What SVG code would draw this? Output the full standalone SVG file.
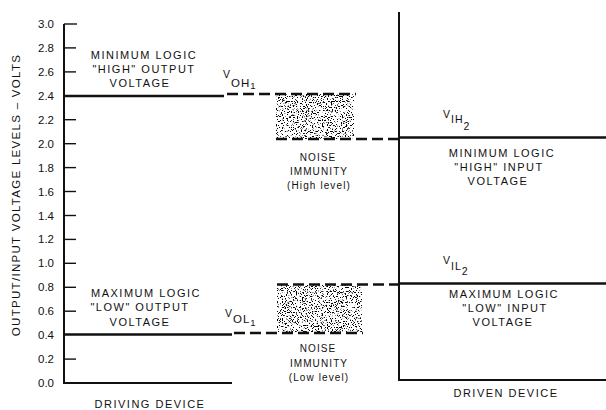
<svg xmlns="http://www.w3.org/2000/svg" width="606" height="410" viewBox="0 0 606 410">
<style>
  text { font-family: "Liberation Sans", Arial, sans-serif; fill: #111; }
  .lbl { font-size: 11px; letter-spacing: 1.5px; text-anchor: middle; }
  .nz { font-size: 10px; letter-spacing: 1.1px; text-anchor: middle; }
  .tk { font-size: 11.5px; text-anchor: end; }
  .v { font-size: 10.5px; letter-spacing: 1px; }
  .ax { stroke: #111; stroke-width: 2; fill: none; }
  .lvl { stroke: #111; stroke-width: 2.6; fill: none; }
  .dash { stroke: #111; stroke-width: 2.6; fill: none; stroke-dasharray: 11 5; }
  .tick { stroke: #111; stroke-width: 1.4; }
</style>
<defs>
  <filter id="stipple" x="0" y="0" width="1" height="1">
    <feTurbulence type="fractalNoise" baseFrequency="0.8" numOctaves="2" seed="7" result="n"/>
    <feColorMatrix in="n" type="matrix" values="0 0 0 0 0  0 0 0 0 0  0 0 0 0 0  -13 0 0 0 5.7" result="m"/>
    <feComposite in="m" in2="SourceGraphic" operator="in"/>
  </filter>
</defs>
<rect width="606" height="410" fill="#fff"/>

<g id="y-axis">
  <line class="ax" x1="64" y1="24" x2="64" y2="383"/>
  <line class="ax" x1="63" y1="383" x2="232" y2="383"/>
  <g class="ticks">
    <line class="tick" x1="64" y1="24" x2="77" y2="24"/>
    <line class="tick" x1="64" y1="47.9" x2="76" y2="47.9"/>
    <line class="tick" x1="64" y1="71.9" x2="76" y2="71.9"/>
    <line class="tick" x1="64" y1="119.7" x2="76" y2="119.7"/>
    <line class="tick" x1="64" y1="143.7" x2="76" y2="143.7"/>
    <line class="tick" x1="64" y1="167.6" x2="76" y2="167.6"/>
    <line class="tick" x1="64" y1="191.5" x2="76" y2="191.5"/>
    <line class="tick" x1="64" y1="215.5" x2="76" y2="215.5"/>
    <line class="tick" x1="64" y1="239.4" x2="76" y2="239.4"/>
    <line class="tick" x1="64" y1="263.3" x2="76" y2="263.3"/>
    <line class="tick" x1="64" y1="287.3" x2="76" y2="287.3"/>
    <line class="tick" x1="64" y1="311.2" x2="76" y2="311.2"/>
    <line class="tick" x1="64" y1="359.1" x2="76" y2="359.1"/>
  </g>
  <text class="tk" x="54" y="28">3.0</text>
  <text class="tk" x="54" y="51.9">2.8</text>
  <text class="tk" x="54" y="75.9">2.6</text>
  <text class="tk" x="54" y="99.8">2.4</text>
  <text class="tk" x="54" y="123.7">2.2</text>
  <text class="tk" x="54" y="147.7">2.0</text>
  <text class="tk" x="54" y="171.6">1.8</text>
  <text class="tk" x="54" y="195.5">1.6</text>
  <text class="tk" x="54" y="219.5">1.4</text>
  <text class="tk" x="54" y="243.4">1.2</text>
  <text class="tk" x="54" y="267.3">1.0</text>
  <text class="tk" x="54" y="291.3">0.8</text>
  <text class="tk" x="54" y="315.2">0.6</text>
  <text class="tk" x="54" y="339.1">0.4</text>
  <text class="tk" x="54" y="363.1">0.2</text>
  <text class="tk" x="54" y="387">0.0</text>
  <text transform="translate(20,195) rotate(-90)" style="font-size:11.5px;letter-spacing:1.3px;text-anchor:middle">OUTPUT/INPUT VOLTAGE LEVELS – VOLTS</text>
</g>

<g id="driven-frame">
  <line class="ax" x1="399" y1="12" x2="399" y2="381"/>
  <line class="ax" x1="398" y1="380" x2="606" y2="380"/>
</g>

<g id="noise-high">
  <rect x="276" y="94" width="78" height="45" fill="#000" filter="url(#stipple)"/>
</g>
<g id="noise-low">
  <rect x="277" y="285" width="85" height="47" fill="#000" filter="url(#stipple)"/>
</g>

<g id="connectors">
  <line class="lvl" x1="64" y1="96" x2="224" y2="96"/>
  <line class="dash" x1="227" y1="94" x2="356" y2="94"/>
  <line class="dash" x1="276" y1="139" x2="399" y2="139"/>
  <line class="lvl" x1="399" y1="137.5" x2="606" y2="137.5"/>
  <line class="lvl" x1="64" y1="334.5" x2="232" y2="334.5"/>
  <line class="dash" x1="234" y1="333" x2="363" y2="333"/>
  <line class="dash" x1="277" y1="284.5" x2="399" y2="284.5"/>
  <line class="lvl" x1="399" y1="283.5" x2="606" y2="283.5"/>
</g>

<g id="label-voh-text">
  <text class="lbl" x="144" y="59">MINIMUM LOGIC</text>
  <text class="lbl" x="144" y="73">"HIGH" OUTPUT</text>
  <text class="lbl" x="140" y="87">VOLTAGE</text>
</g>
<g id="label-vol-text">
  <text class="lbl" x="146" y="297">MAXIMUM LOGIC</text>
  <text class="lbl" x="140" y="311">"LOW" OUTPUT</text>
  <text class="lbl" x="140" y="326">VOLTAGE</text>
</g>
<g id="label-vih-text">
  <text class="lbl" x="502" y="157">MINIMUM LOGIC</text>
  <text class="lbl" x="499" y="171">"HIGH" INPUT</text>
  <text class="lbl" x="498" y="185">VOLTAGE</text>
</g>
<g id="label-vil-text">
  <text class="lbl" x="504" y="298">MAXIMUM LOGIC</text>
  <text class="lbl" x="505" y="312">"LOW" INPUT</text>
  <text class="lbl" x="503" y="326">VOLTAGE</text>
</g>

<g id="label-voh1">
  <text class="v" x="223" y="78">V<tspan dy="9" style="font-size:11.5px">OH</tspan><tspan dy="2" style="font-size:9.5px">1</tspan></text>
</g>
<g id="label-vol1">
  <text class="v" x="225" y="317">V<tspan dy="6" style="font-size:11.5px">OL</tspan><tspan dy="3" style="font-size:9.5px">1</tspan></text>
</g>
<g id="label-vih2">
  <text class="v" x="443" y="118">V<tspan dy="5" style="font-size:10.5px">IH</tspan><tspan dy="7" style="font-size:10.5px">2</tspan></text>
</g>
<g id="label-vil2">
  <text class="v" x="443" y="264">V<tspan dy="6" style="font-size:10.5px">IL</tspan><tspan dy="5" style="font-size:10.5px">2</tspan></text>
</g>

<g id="label-noise-high">
  <text class="nz" x="318" y="161">NOISE</text>
  <text class="nz" x="319" y="175">IMMUNITY</text>
  <text class="nz" x="319" y="189">(High level)</text>
</g>
<g id="label-noise-low">
  <text class="nz" x="318" y="352">NOISE</text>
  <text class="nz" x="319" y="367">IMMUNITY</text>
  <text class="nz" x="319" y="381">(Low level)</text>
</g>

<g id="label-driving">
  <text class="lbl" x="150" y="408">DRIVING DEVICE</text>
</g>
<g id="label-driven">
  <text class="lbl" x="506" y="397">DRIVEN DEVICE</text>
</g>
</svg>
